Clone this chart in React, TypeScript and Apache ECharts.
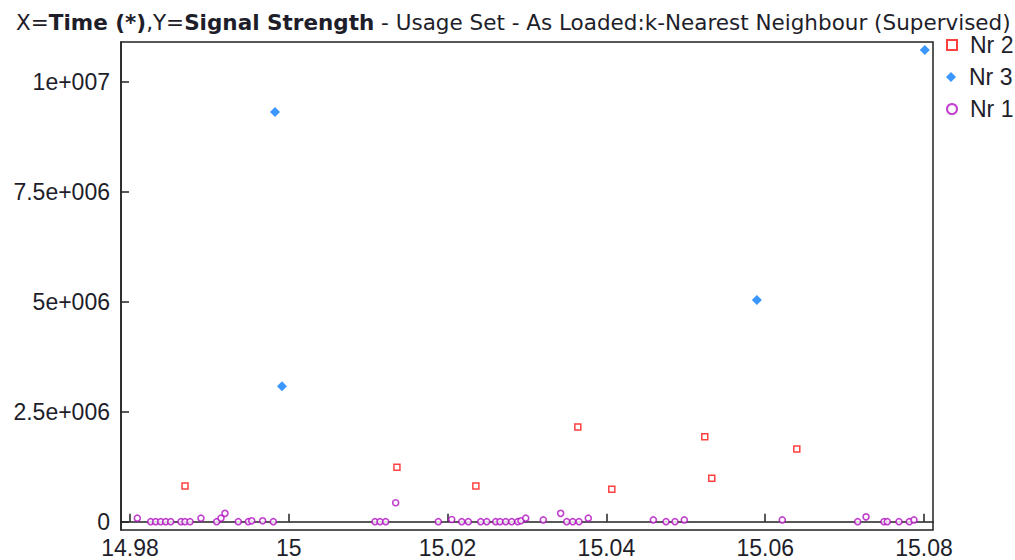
import React, { useEffect, useRef } from "react";
import * as echarts from "echarts";

// ---- data ----
const xTickValues = [14.98, 15.0, 15.02, 15.04, 15.06, 15.08];
const xTickLabels = ["14.98", "15", "15.02", "15.04", "15.06", "15.08"];
const yTickValues = [0, 2.5e6, 5e6, 7.5e6, 1e7];
const yTickLabels = ["0", "2.5e+006", "5e+006", "7.5e+006", "1e+007"];

const seriesNames = ["Nr 2", "Nr 3", "Nr 1"];

const nr2Points: [number, number][] = [
  [14.98693, 0.81e6],
  [15.01362, 1.24e6],
  [15.02356, 0.81e6],
  [15.0364, 2.15e6],
  [15.04068, 0.74e6],
  [15.05239, 1.93e6],
  [15.05327, 0.99e6],
  [15.06398, 1.65e6],
];

const nr3Points: [number, number][] = [
  [14.99826, 9.31e6],
  [14.99914, 3.08e6],
  [15.05895, 5.04e6],
  [15.0801, 10.72e6],
];

const nr1Points: [number, number][] = [
  [14.98092, 0.08e6],
  [14.98261, 0.0],
  [14.98324, 0.0],
  [14.98387, 0.0],
  [14.9845, 0.0],
  [14.98513, 0.0],
  [14.98642, 0.0],
  [14.98693, 0.0],
  [14.98756, 0.0],
  [14.98894, 0.08e6],
  [14.99092, 0.0],
  [14.99146, 0.08e6],
  [14.99196, 0.19e6],
  [14.99364, 0.0],
  [14.9949, 0.0],
  [14.99533, 0.02e6],
  [14.99671, 0.02e6],
  [14.99805, 0.0],
  [15.01086, 0.0],
  [15.01149, 0.0],
  [15.0122, 0.0],
  [15.01346, 0.43e6],
  [15.01883, 0.0],
  [15.02052, 0.05e6],
  [15.02178, 0.0],
  [15.02261, 0.0],
  [15.02417, 0.0],
  [15.02493, 0.0],
  [15.02606, 0.0],
  [15.0266, 0.0],
  [15.02732, 0.0],
  [15.02807, 0.0],
  [15.02883, 0.0],
  [15.02924, 0.02e6],
  [15.02984, 0.08e6],
  [15.03205, 0.04e6],
  [15.03424, 0.19e6],
  [15.035, 0.0],
  [15.03576, 0.0],
  [15.03655, 0.0],
  [15.03772, 0.08e6],
  [15.04591, 0.04e6],
  [15.04751, 0.0],
  [15.04864, 0.0],
  [15.04981, 0.04e6],
  [15.06215, 0.04e6],
  [15.07165, 0.0],
  [15.0727, 0.11e6],
  [15.07496, 0.0],
  [15.07538, 0.0],
  [15.07685, 0.0],
  [15.07815, 0.0],
  [15.07874, 0.04e6],
];

const FONT = "'Liberation Sans', Arial, sans-serif";
const TITLE_FONT = "'DejaVu Sans', 'Liberation Sans', sans-serif";
const TEXT = "#1e1e2a";
const AXIS = "#222222";

function nearestLabel(v: number, vals: number[], labels: string[], tol: number) {
  for (let i = 0; i < vals.length; i++) {
    if (Math.abs(vals[i] - v) < tol) return labels[i];
  }
  return "";
}

export default function App() {
  const ref = useRef<HTMLDivElement>(null);
  useEffect(() => {
    if (!ref.current) return;
    const chart = echarts.init(ref.current, undefined, { renderer: "svg" });
    const legendBase = {
      orient: "vertical",
      left: 945,
      itemWidth: 10,
      itemHeight: 10,
      itemGap: 0,
      padding: [0, 4, 0, 1],
      backgroundColor: "#ffffff",
      z: 10,
      textStyle: {
        fontFamily: FONT,
        fontSize: 23,
        lineHeight: 24,
        color: TEXT,
        padding: [0, 0, 0, 8],
      },
    };
    chart.setOption({
      animation: false,
      backgroundColor: "#ffffff",
      title: {
        left: 16,
        top: 12,
        padding: 0,
        z: 1,
        text: "X={b|Time (*)},Y={b|Signal Strength} - Usage Set - As Loaded:k-Nearest Neighbour (Supervised)",
        textStyle: {
          fontFamily: TITLE_FONT,
          fontSize: 21.5,
          lineHeight: 20,
          fontWeight: "normal",
          color: TEXT,
          rich: {
            b: {
              fontFamily: TITLE_FONT,
              fontSize: 21.5,
              lineHeight: 20,
              fontWeight: "bold",
              color: TEXT,
            },
          },
        },
      },
      legend: [
        { ...legendBase, top: 33, data: [{ name: seriesNames[0] }] },
        { ...legendBase, top: 65, data: [{ name: seriesNames[1] }] },
        { ...legendBase, top: 97, data: [{ name: seriesNames[2] }] },
      ],
      grid: {
        left: 121,
        top: 42,
        width: 812,
        height: 488,
        show: true,
        borderColor: AXIS,
        borderWidth: 1.5,
        containLabel: false,
      },
      xAxis: {
        type: "value",
        min: 14.98 - 9 / 7940,
        max: 15.08 + 9 / 7940,
        splitLine: { show: false },
        axisLine: { show: true, lineStyle: { color: AXIS, width: 1.5 } },
        axisTick: {
          show: true,
          inside: true,
          length: 8,
          customValues: xTickValues,
          lineStyle: { color: AXIS, width: 1.5 },
        },
        axisLabel: {
          customValues: xTickValues,
          margin: 6,
          fontFamily: FONT,
          fontSize: 23,
          color: TEXT,
          formatter: (v: number) => nearestLabel(v, xTickValues, xTickLabels, 1e-6),
        },
      },
      yAxis: {
        type: "value",
        min: -(530 - 521.7) / 44 * 1e6,
        max: (521.7 - 42) / 44 * 1e6,
        splitLine: { show: false },
        axisLine: { show: true, lineStyle: { color: AXIS, width: 1.5 } },
        axisTick: {
          show: true,
          inside: true,
          length: 8,
          customValues: yTickValues,
          lineStyle: { color: AXIS, width: 1.5 },
        },
        axisLabel: {
          customValues: yTickValues,
          margin: 11,
          fontFamily: FONT,
          fontSize: 23,
          color: TEXT,
          formatter: (v: number) => nearestLabel(v, yTickValues, yTickLabels, 1),
        },
      },
      series: [
        {
          name: seriesNames[0],
          type: "scatter",
          symbol: "rect",
          symbolSize: 6,
          data: nr2Points,
          itemStyle: { color: "#ffffff", borderColor: "#ff1010", borderWidth: 1.5 },
          z: 3,
        },
        {
          name: seriesNames[1],
          type: "scatter",
          symbol: "diamond",
          symbolSize: [10, 10],
          data: nr3Points,
          itemStyle: { color: "#0a7dff" },
          z: 4,
        },
        {
          name: seriesNames[2],
          type: "scatter",
          symbol: "circle",
          symbolSize: 6,
          data: nr1Points,
          itemStyle: { color: "#ffffff", borderColor: "#b010c0", borderWidth: 1.6 },
          z: 2,
        },
      ],
    });
    return () => chart.dispose();
  }, []);
  return (
    <div
      ref={ref}
      style={{ position: "fixed", left: 0, top: 0, width: 1015, height: 560, background: "#fff" }}
    />
  );
}
